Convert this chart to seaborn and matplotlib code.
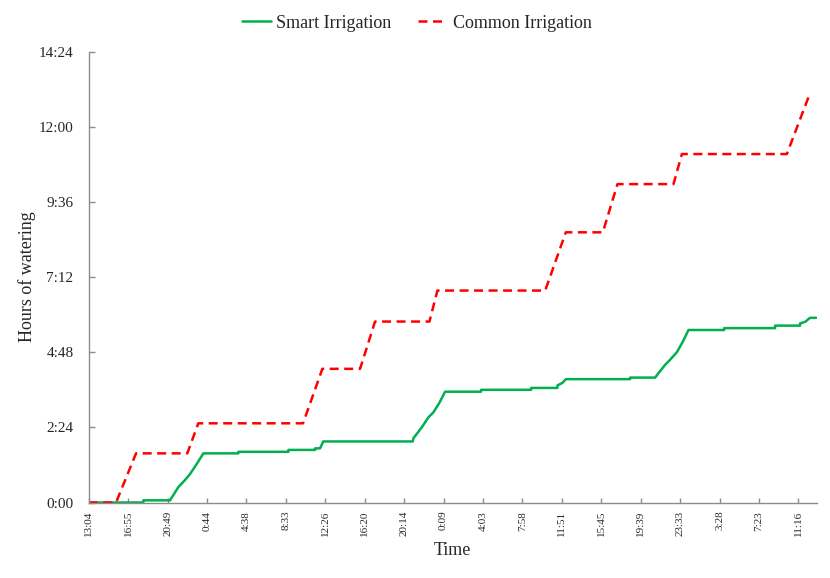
import seaborn as sns
import matplotlib.pyplot as plt
import pandas as pd
import numpy as np

# time axis: hours since 13:04 on the first day
tick_labels = ["13:04", "16:55", "20:49", "0:44", "4:38", "8:33", "12:26", "16:20",
               "20:14", "0:09", "4:03", "7:58", "11:51", "15:45", "19:39", "23:33",
               "3:28", "7:23", "11:16"]
y_labels = ["0:00", "2:24", "4:48", "7:12", "9:36", "12:00", "14:24"]

# Smart Irrigation, cumulative hours of watering
smart_t = [0, 5.40, 5.40, 8.04, 8.37, 8.86, 9.53, 10.02, 10.68, 11.34,
           14.80, 14.80, 19.75, 19.75, 22.39, 22.39, 22.88, 23.20,
           32.05, 32.11, 32.94, 33.60, 34.09, 34.66, 35.25,
           38.81, 38.81, 43.76, 43.76, 46.36, 46.36, 46.85, 47.19,
           53.55, 53.55, 56.03, 56.35, 57.02, 57.51, 58.17, 58.77, 59.32,
           62.85, 62.85, 67.89, 67.89, 70.36, 70.36, 70.86, 71.35, 71.95]
smart_h = [0, 0, 0.07, 0.07, 0.24, 0.49, 0.72, 0.91, 1.23, 1.57,
           1.57, 1.62, 1.62, 1.68, 1.68, 1.73, 1.73, 1.95,
           1.95, 2.05, 2.40, 2.72, 2.88, 3.17, 3.54,
           3.54, 3.60, 3.60, 3.66, 3.66, 3.74, 3.82, 3.94,
           3.94, 3.99, 3.99, 4.13, 4.40, 4.56, 4.80, 5.14, 5.51,
           5.51, 5.57, 5.57, 5.65, 5.65, 5.72, 5.77, 5.90, 5.90]

# Common Irrigation
common_t = [0, 2.70, 4.68, 9.75, 10.84, 21.20, 23.11, 26.84, 28.32, 33.70, 34.49,
            45.15, 47.19, 50.85, 52.30, 57.84, 58.67, 69.05, 71.26]
common_h = [0, 0, 1.57, 1.57, 2.53, 2.53, 4.27, 4.27, 5.78, 5.78, 6.77,
            6.77, 8.63, 8.63, 10.17, 10.17, 11.13, 11.13, 13.0]

df = pd.concat([
    pd.DataFrame({"t": smart_t, "h": smart_h, "kind": "Smart Irrigation"}),
    pd.DataFrame({"t": common_t, "h": common_h, "kind": "Common Irrigation"}),
])

sns.set_theme(style="white")
plt.rcParams["font.family"] = ["Liberation Serif", "DejaVu Serif"]

fig = plt.figure(figsize=(8.3, 5.78), dpi=100)
ax = fig.add_axes([0.1069, 0.1306, 0.877, 0.780])

sns.lineplot(data=df, x="t", y="h", hue="kind", style="kind",
             palette={"Smart Irrigation": "#00B050", "Common Irrigation": "#FF0000"},
             dashes={"Smart Irrigation": "", "Common Irrigation": (3.6, 2.2)},
             estimator=None, sort=False, linewidth=1.8, ax=ax)

ax.set_xlim(0, 72)
ax.set_ylim(0, 14.4)
ax.set_xticks(np.arange(len(tick_labels)) * 3.9)
ax.set_xticklabels(tick_labels, rotation=90, fontsize=8)
ax.set_yticks(np.arange(len(y_labels)) * 2.4)
ax.set_yticklabels(y_labels, fontsize=11)
ax.tick_params(axis="y", direction="in", length=4, width=1, color="#8c8c8c", pad=11, left=True)
ax.tick_params(axis="x", direction="in", length=3.5, width=1, color="#8c8c8c", pad=6, bottom=True)

for side in ["top", "right"]:
    ax.spines[side].set_visible(False)
for side in ["left", "bottom"]:
    ax.spines[side].set_color("#8c8c8c")
    ax.spines[side].set_linewidth(1)

ax.set_xlabel("Time", fontsize=13, labelpad=4)
ax.set_ylabel("Hours of watering", fontsize=13, labelpad=2)

sns.move_legend(ax, "center", bbox_to_anchor=(0.502, 0.960),
                bbox_transform=fig.transFigure, ncol=2, title=None, frameon=False,
                fontsize=13, handlelength=1.6, handletextpad=0.3, columnspacing=1.5)

fig.savefig("out.png", dpi=100)
